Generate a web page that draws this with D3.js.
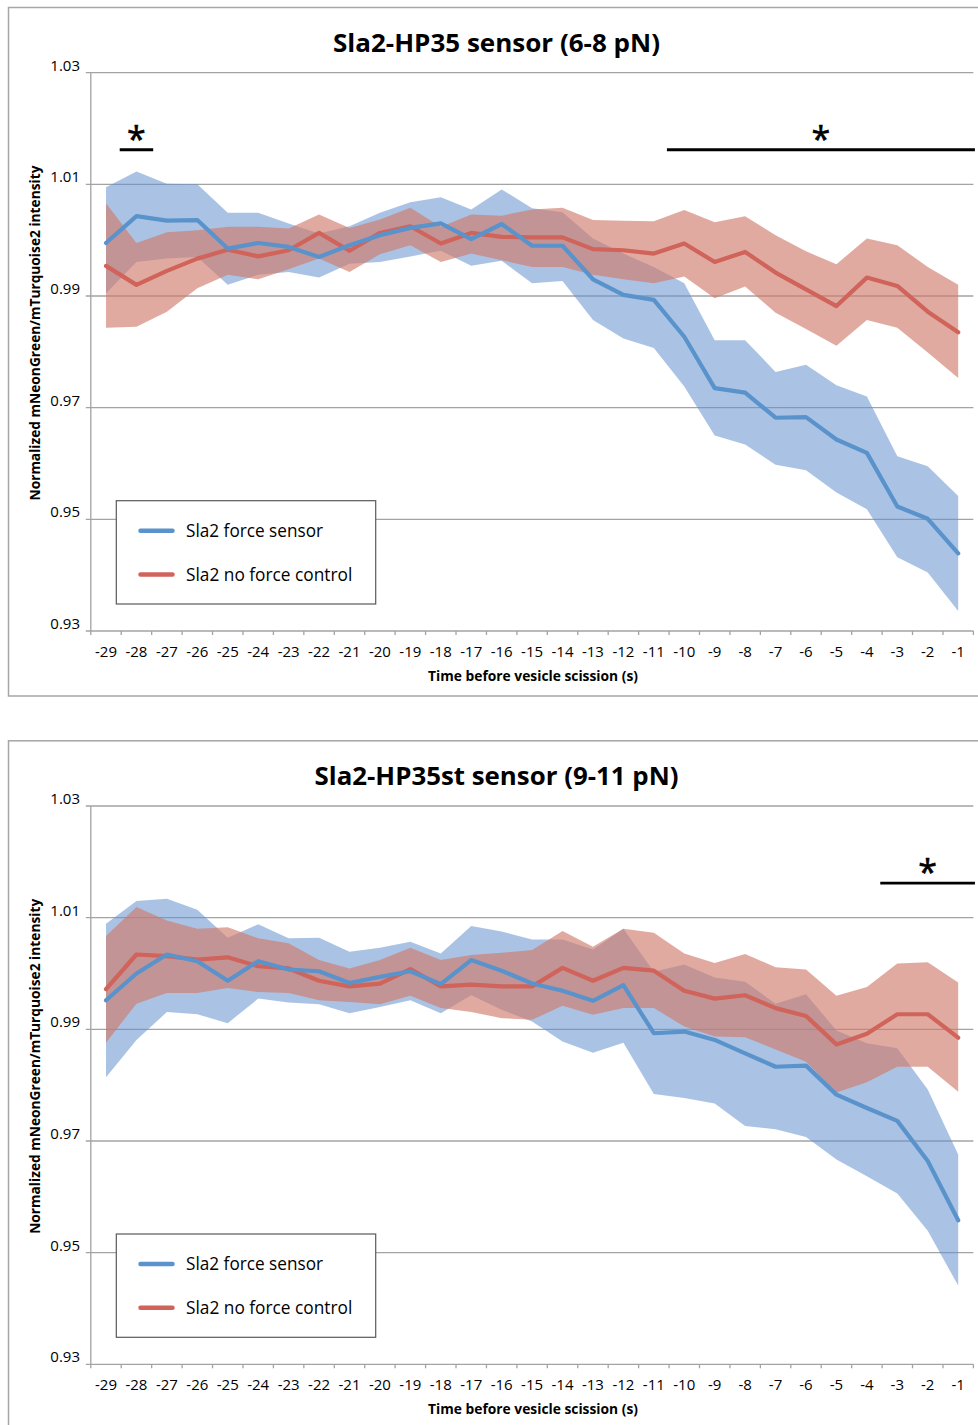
<!DOCTYPE html>
<html>
<head>
<meta charset="utf-8">
<script src="https://cdn.jsdelivr.net/npm/d3@7"></script>
<style>
  html, body { margin: 0; padding: 0; background: #ffffff; }
  svg { display: block; }
  text { font-family: "Open Sans", "Liberation Sans", sans-serif; fill: #000; }
</style>
</head>
<body>
<div id="chart"></div>
<script>
// ---------------- DATA ----------------
const categories = [-29,-28,-27,-26,-25,-24,-23,-22,-21,-20,-19,-18,-17,-16,-15,-14,-13,-12,-11,-10,-9,-8,-7,-6,-5,-4,-3,-2,-1];
const yTicks = [0.93, 0.95, 0.97, 0.99, 1.01, 1.03];
const yTickLabels = ["0.93", "0.95", "0.97", "0.99", "1.01", "1.03"];
const seriesNames = ["Sla2 force sensor", "Sla2 no force control"];
const xTitle = "Time before vesicle scission (s)";
const yTitle = "Normalized mNeonGreen/mTurquoise2 intensity";

// Chart 1: Sla2-HP35 sensor (6-8 pN)
const title1 = "Sla2-HP35 sensor (6-8 pN)";
const sensor1Mean  = [0.9995,1.0043,1.0035,1.0036,0.9985,0.9995,0.9988,0.9970,0.9991,1.0009,1.0022,1.0030,1.0002,1.0029,0.9990,0.9990,0.9930,0.9902,0.9893,0.9827,0.9735,0.9727,0.9682,0.9683,0.9643,0.9619,0.9523,0.9501,0.9439];
const sensor1Upper = [1.0095,1.0123,1.0101,1.0100,1.0049,1.0049,1.0030,1.0012,1.0025,1.0049,1.0068,1.0077,1.0055,1.0091,1.0057,1.0050,1.0003,0.9976,0.9952,0.9923,0.9821,0.9821,0.9764,0.9777,0.9740,0.9720,0.9613,0.9595,0.9542];
const sensor1Lower = [0.9905,0.9961,0.9967,0.9970,0.9920,0.9938,0.9943,0.9933,0.9958,0.9961,0.9971,0.9981,0.9954,0.9963,0.9923,0.9927,0.9857,0.9824,0.9807,0.9738,0.9650,0.9634,0.9598,0.9588,0.9548,0.9518,0.9432,0.9405,0.9336];
const control1Mean  = [0.9954,0.9920,0.9945,0.9967,0.9983,0.9971,0.9982,1.0013,0.9981,1.0013,1.0025,0.9994,1.0013,1.0006,1.0005,1.0005,0.9984,0.9982,0.9976,0.9994,0.9961,0.9979,0.9942,0.9912,0.9882,0.9933,0.9918,0.9872,0.9835];
const control1Upper = [1.0066,0.9995,1.0014,1.0018,1.0024,1.0024,1.0021,1.0046,1.0022,1.0037,1.0058,1.0024,1.0046,1.0044,1.0055,1.0058,1.0036,1.0035,1.0034,1.0054,1.0032,1.0043,1.0009,0.9980,0.9957,1.0003,0.9991,0.9952,0.9920];
const control1Lower = [0.9843,0.9845,0.9872,0.9914,0.9938,0.9930,0.9948,0.9967,0.9943,0.9975,0.9991,0.9961,0.9976,0.9964,0.9952,0.9952,0.9938,0.9930,0.9923,0.9935,0.9896,0.9917,0.9870,0.9841,0.9811,0.9857,0.9843,0.9799,0.9753];
const sig1From = [-28.55, -10.57];
const sig1To   = [-27.45, -0.45];

// Chart 2: Sla2-HP35st sensor (9-11 pN)
const title2 = "Sla2-HP35st sensor (9-11 pN)";
const sensor2Mean  = [0.9952,1.0000,1.0034,1.0022,0.9987,1.0022,1.0007,1.0004,0.9983,0.9994,1.0004,0.9981,1.0024,1.0005,0.9982,0.9969,0.9951,0.9979,0.9893,0.9896,0.9881,0.9857,0.9833,0.9835,0.9783,0.9759,0.9736,0.9664,0.9558];
const sensor2Upper = [1.0089,1.0130,1.0134,1.0114,1.0064,1.0088,1.0063,1.0064,1.0039,1.0046,1.0057,1.0036,1.0085,1.0075,1.0061,1.0061,1.0043,1.0080,1.0003,1.0016,0.9993,0.9985,0.9946,0.9963,0.9898,0.9875,0.9866,0.9792,0.9676];
const sensor2Lower = [0.9814,0.9881,0.9931,0.9927,0.9911,0.9955,0.9948,0.9945,0.9929,0.9940,0.9952,0.9929,0.9961,0.9935,0.9914,0.9878,0.9858,0.9876,0.9784,0.9777,0.9767,0.9727,0.9721,0.9707,0.9667,0.9637,0.9606,0.9539,0.9441];
const control2Mean  = [0.9972,1.0034,1.0031,1.0025,1.0029,1.0013,1.0009,0.9987,0.9977,0.9982,1.0008,0.9977,0.9980,0.9977,0.9977,1.0010,0.9987,1.0010,1.0005,0.9969,0.9955,0.9961,0.9938,0.9924,0.9873,0.9892,0.9927,0.9927,0.9885];
const control2Upper = [1.0067,1.0119,1.0095,1.0080,1.0083,1.0063,1.0054,1.0024,1.0009,1.0024,1.0046,1.0024,1.0033,1.0037,1.0042,1.0076,1.0048,1.0080,1.0073,1.0036,1.0019,1.0035,1.0011,1.0007,0.9960,0.9976,1.0018,1.0020,0.9984];
const control2Lower = [0.9876,0.9946,0.9965,0.9965,0.9974,0.9967,0.9965,0.9952,0.9949,0.9945,0.9960,0.9938,0.9931,0.9920,0.9917,0.9942,0.9926,0.9938,0.9938,0.9905,0.9887,0.9886,0.9864,0.9842,0.9787,0.9805,0.9833,0.9833,0.9788];
const sig2From = [-3.56];
const sig2To   = [-0.45];

// ---------------- LAYOUT / STYLE ----------------
const W = 978, H = 1425;
const chartOffsets = [0, 733.3];
const plotLeft = 90.8, plotRight = 973.4, plotTop = 72.7, plotBottom = 631;
const sigLevel = 1.0162;
const blueLine = "#5a93cb", redLine = "#d0635a";
const blueBand = "rgb(100,145,205)", redBand = "rgb(208,122,107)";
const gridColor = "#a3a3a3";

const charts = [
  { title: title1, titleLen: 327,
    sMean: sensor1Mean, sUp: sensor1Upper, sLo: sensor1Lower,
    cMean: control1Mean, cUp: control1Upper, cLo: control1Lower,
    sigFrom: sig1From, sigTo: sig1To },
  { title: title2, titleLen: 364,
    sMean: sensor2Mean, sUp: sensor2Upper, sLo: sensor2Lower,
    cMean: control2Mean, cUp: control2Upper, cLo: control2Lower,
    sigFrom: sig2From, sigTo: sig2To }
];

const svg = d3.select("#chart").append("svg")
  .attr("width", W).attr("height", H)
  .attr("viewBox", `0 0 ${W} ${H}`);
svg.append("rect").attr("width", W).attr("height", H).attr("fill", "#fff");

const x = d3.scaleBand().domain(categories).range([plotLeft, plotRight]).padding(0);
const xc = c => x(c) + x.bandwidth() / 2;
const xLin = d3.scaleLinear().domain([-29.5, -0.5]).range([plotLeft, plotRight]);
const y = d3.scaleLinear().domain([0.93, 1.03]).range([plotBottom, plotTop]);

charts.forEach((cfg, ci) => {
  const g = svg.append("g").attr("transform", `translate(0,${chartOffsets[ci]})`);

  // frame
  g.append("rect")
    .attr("x", 8.5).attr("y", 7.5).attr("width", 1000).attr("height", 688.5)
    .attr("fill", "none").attr("stroke", "#a6a6a6").attr("stroke-width", 1.5);

  // title
  g.append("text")
    .attr("x", 496.5).attr("y", 51.5)
    .attr("text-anchor", "middle")
    .attr("font-size", 25).attr("font-weight", "bold")
    .attr("textLength", cfg.titleLen).attr("lengthAdjust", "spacingAndGlyphs")
    .text(cfg.title);

  // gridlines + y ticks
  g.append("g").selectAll("line").data(yTicks).join("line")
    .attr("x1", plotLeft - 5).attr("x2", plotRight)
    .attr("y1", d => y(d)).attr("y2", d => y(d))
    .attr("stroke", gridColor).attr("stroke-width", 1.3);

  g.append("g").selectAll("text").data(yTicks).join("text")
    .attr("x", 80).attr("y", d => y(d) - 2)
    .attr("text-anchor", "end").attr("font-size", 15)
    .text((d, i) => yTickLabels[i]);

  // y axis line
  g.append("line")
    .attr("x1", plotLeft).attr("x2", plotLeft)
    .attr("y1", plotTop).attr("y2", plotBottom)
    .attr("stroke", gridColor).attr("stroke-width", 1.3);

  // x axis boundary ticks
  const bounds = categories.map(c => x(c)).concat([x.range()[1]]);
  g.append("g").selectAll("line").data(bounds).join("line")
    .attr("x1", d => d).attr("x2", d => d)
    .attr("y1", plotBottom).attr("y2", plotBottom + 4)
    .attr("stroke", gridColor).attr("stroke-width", 1.3);

  // x labels
  g.append("g").selectAll("text").data(categories).join("text")
    .attr("x", d => xc(d)).attr("y", plotBottom + 26)
    .attr("text-anchor", "middle").attr("font-size", 15)
    .text(d => String(d));

  // axis titles
  g.append("text")
    .attr("x", 533).attr("y", 681)
    .attr("text-anchor", "middle").attr("font-size", 14).attr("font-weight", "bold")
    .attr("textLength", 210).attr("lengthAdjust", "spacingAndGlyphs")
    .text(xTitle);
  g.append("text")
    .attr("transform", "translate(39.5,333) rotate(-90)")
    .attr("text-anchor", "middle").attr("font-size", 13.5).attr("font-weight", "bold")
    .attr("textLength", 335).attr("lengthAdjust", "spacingAndGlyphs")
    .text(yTitle);

  // bands
  const area = (lo, up) => d3.area()
    .x((d, i) => xc(categories[i]))
    .y0((d, i) => y(lo[i]))
    .y1((d, i) => y(up[i]));
  g.append("path").datum(categories)
    .attr("d", area(cfg.sLo, cfg.sUp))
    .attr("fill", blueBand).attr("fill-opacity", 0.55);
  g.append("path").datum(categories)
    .attr("d", area(cfg.cLo, cfg.cUp))
    .attr("fill", redBand).attr("fill-opacity", 0.64);

  // mean lines
  const line = vals => d3.line()
    .x((d, i) => xc(categories[i]))
    .y((d, i) => y(vals[i]));
  g.append("path").datum(categories)
    .attr("d", line(cfg.cMean))
    .attr("fill", "none").attr("stroke", redLine).attr("stroke-width", 4.2)
    .attr("stroke-linejoin", "round").attr("stroke-linecap", "round");
  g.append("path").datum(categories)
    .attr("d", line(cfg.sMean))
    .attr("fill", "none").attr("stroke", blueLine).attr("stroke-width", 4.2)
    .attr("stroke-linejoin", "round").attr("stroke-linecap", "round");

  // significance bars
  cfg.sigFrom.forEach((f, k) => {
    const t = cfg.sigTo[k];
    g.append("line")
      .attr("x1", xLin(f)).attr("x2", xLin(t))
      .attr("y1", y(sigLevel)).attr("y2", y(sigLevel))
      .attr("stroke", "#000").attr("stroke-width", 2.8);
    g.append("text")
      .attr("x", xLin((f + t) / 2)).attr("y", y(sigLevel) + 1)
      .attr("text-anchor", "middle").attr("font-size", 34)
      .attr("stroke", "#000").attr("stroke-width", 0.6)
      .text("*");
  });

  // legend
  const lg = g.append("g");
  lg.append("rect")
    .attr("x", 116.3).attr("y", 500.7).attr("width", 259.4).attr("height", 103.3)
    .attr("fill", "#fff").attr("stroke", "#595959").attr("stroke-width", 1.2);
  const legendColors = [blueLine, redLine];
  const legendY = [530.7, 574.5];
  const legendLens = [137, 166.3];
  seriesNames.forEach((name, k) => {
    lg.append("line")
      .attr("x1", 140.5).attr("x2", 172.5)
      .attr("y1", legendY[k]).attr("y2", legendY[k])
      .attr("stroke", legendColors[k]).attr("stroke-width", 4.5)
      .attr("stroke-linecap", "round");
    lg.append("text")
      .attr("x", 186).attr("y", legendY[k] + 6)
      .attr("font-size", 17.5)
      .attr("textLength", legendLens[k]).attr("lengthAdjust", "spacingAndGlyphs")
      .text(name);
  });
});
</script>
</body>
</html>
